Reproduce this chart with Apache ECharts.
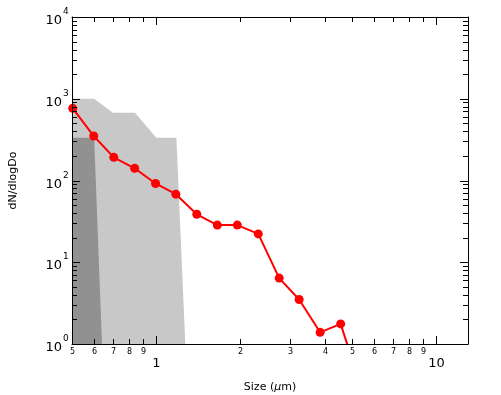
<!DOCTYPE html>
<html>
<head>
<meta charset="utf-8">
<script src="https://cdn.jsdelivr.net/npm/echarts@6/dist/echarts.min.js"></script>
<style>html,body{margin:0;padding:0;background:#fff}#c{width:501px;height:395px}</style>
</head>
<body>
<div id="c"></div>
<script>
// Measured size distribution (red)
const sizes = [0.503, 0.598, 0.705, 0.837, 0.994, 1.175, 1.396, 1.653, 1.948, 2.315, 2.75, 3.24, 3.85, 4.56, 5.4];
const conc  = [764, 350, 192, 141, 92, 68, 38.6, 28.5, 28.5, 22.2, 6.4, 3.5, 1.39, 1.76, 0.29];

// Grey shaded envelopes (size, dN/dlogDo vertices)
const lightGreyX = [0.5, 0.5, 0.6, 0.7, 0.84, 1.0, 1.18, 1.27];
const lightGreyY = [1, 1000, 1000, 675, 675, 334, 334, 1];
const darkGreyX  = [0.5, 0.5, 0.6, 0.64];
const darkGreyY  = [1, 334, 334, 1];

// Tick values and labels
const xTickValues = [0.5, 0.6, 0.7, 0.8, 0.9, 1, 2, 3, 4, 5, 6, 7, 8, 9, 10];
const xTickLabels = ['5', '6', '7', '8', '9', '1', '2', '3', '4', '5', '6', '7', '8', '9', '10'];
const yMajorValues = [1, 10, 100, 1000, 10000];
const yMajorExp = ['0', '1', '2', '3', '4'];
const yMinorMult = [2, 3, 4, 5, 6, 7, 8, 9];

const FONT = 'DejaVu Sans, Verdana, sans-serif';
const X_MIN = 0.5, X_MAX = 13, Y_MIN = 1, Y_MAX = 10000;

function isMajorX(v) { return v === 1 || v === 10; }

const yTicks = [];
yMajorValues.forEach(function (d, i) {
  yTicks.push([X_MIN, d, 1]);
  if (i < yMajorValues.length - 1) yMinorMult.forEach(function (m) { yTicks.push([X_MIN, d * m, 0]); });
});

function polySeries(xs, ys, color) {
  return {
    type: 'custom', silent: true, z: 1,
    data: [[xs[0], ys[0]]],
    renderItem: function (params, api) {
      const pts = xs.map(function (x, i) { return api.coord([x, ys[i]]); });
      return { type: 'polygon', shape: { points: pts }, style: { fill: color } };
    }
  };
}

const chart = echarts.init(document.getElementById('c'), null, { renderer: 'canvas' });
chart.setOption({
  animation: false,
  backgroundColor: '#ffffff',
  grid: { left: 72, right: 33, top: 17, bottom: 51, show: false, containLabel: false, outerBoundsMode: 'none' },
  xAxis: [{
    type: 'log', logBase: 10, min: X_MIN, max: X_MAX, z: 10,
    axisLine: { show: true, lineStyle: { color: '#000', width: 1 } },
    axisTick: { show: false }, axisLabel: { show: false }, splitLine: { show: false },
    name: 'Size ({i|μ}m)', nameLocation: 'middle', nameGap: 38,
    nameTextStyle: { fontFamily: FONT, fontSize: 11, color: '#000',
      rich: { i: { fontFamily: FONT, fontSize: 11, fontStyle: 'italic', color: '#000' } } }
  }, {
    type: 'log', logBase: 10, min: X_MIN, max: X_MAX, position: 'top', z: 10,
    axisLine: { show: true, lineStyle: { color: '#000', width: 1 } },
    axisTick: { show: false }, axisLabel: { show: false }, splitLine: { show: false }
  }],
  yAxis: [{
    type: 'log', logBase: 10, min: Y_MIN, max: Y_MAX, z: 10,
    axisLine: { show: true, lineStyle: { color: '#000', width: 1 } },
    axisTick: { show: false }, axisLabel: { show: false }, splitLine: { show: false },
    name: 'dN/dlogDo', nameLocation: 'middle', nameGap: 53, nameRotate: 90,
    nameTextStyle: { fontFamily: FONT, fontSize: 11, color: '#000' }
  }, {
    type: 'log', logBase: 10, min: Y_MIN, max: Y_MAX, position: 'right', z: 10,
    axisLine: { show: true, lineStyle: { color: '#000', width: 1 } },
    axisTick: { show: false }, axisLabel: { show: false }, splitLine: { show: false }
  }],
  series: [
    polySeries(lightGreyX, lightGreyY, '#c8c8c8'),
    polySeries(darkGreyX, darkGreyY, '#919191'),
    {
      type: 'custom', silent: true, z: 11,
      data: xTickValues.map(function (v, i) { return [v, Y_MIN, i]; }),
      renderItem: function (params, api) {
        const v = api.value(0), idx = api.value(2);
        const x = Math.round(api.coord([v, Y_MIN])[0]) + 0.5;
        const cs = params.coordSys;
        const bottom = cs.y + cs.height, top = cs.y;
        const major = isMajorX(v);
        const len = major ? 8 : 5;
        const children = [
          { type: 'line', shape: { x1: x, y1: bottom, x2: x, y2: bottom - len }, style: { stroke: '#000', lineWidth: 1 } },
          { type: 'line', shape: { x1: x, y1: top, x2: x, y2: top + len }, style: { stroke: '#000', lineWidth: 1 } }
        ];
        if (major) {
          children.push({ type: 'text', x: x, y: bottom + 20,
            style: { text: xTickLabels[idx], fontFamily: FONT, fontSize: 13, fill: '#000', align: 'center', verticalAlign: 'middle' } });
        } else {
          children.push({ type: 'text', x: x, y: bottom + 8,
            style: { text: xTickLabels[idx], fontFamily: FONT, fontSize: 8, fill: '#000', align: 'center', verticalAlign: 'middle' } });
        }
        return { type: 'group', children: children };
      }
    },
    {
      type: 'custom', silent: true, z: 11,
      data: yTicks,
      renderItem: function (params, api) {
        const v = api.value(1), major = api.value(2) === 1;
        const y = Math.round(api.coord([X_MIN, v])[1]) + 0.5;
        const cs = params.coordSys;
        const left = cs.x, right = cs.x + cs.width;
        const len = major ? 8 : 5;
        const children = [
          { type: 'line', shape: { x1: left, y1: y, x2: left + len, y2: y }, style: { stroke: '#000', lineWidth: 1 } },
          { type: 'line', shape: { x1: right, y1: y, x2: right - len, y2: y }, style: { stroke: '#000', lineWidth: 1 } }
        ];
        if (major) {
          const e = yMajorExp[yMajorValues.indexOf(v)];
          children.push({ type: 'text', x: left - 10, y: y + 3,
            style: { text: '10', fontFamily: FONT, fontSize: 13, fill: '#000', align: 'right', verticalAlign: 'middle' } });
          children.push({ type: 'text', x: left - 9, y: y - 6,
            style: { text: e, fontFamily: FONT, fontSize: 9, fill: '#000', align: 'left', verticalAlign: 'middle' } });
        }
        return { type: 'group', children: children };
      }
    },
    {
      type: 'line', z: 5,
      data: sizes.map(function (s, i) { return [s, conc[i]]; }),
      clip: true,
      symbol: 'circle', symbolSize: 9,
      lineStyle: { color: '#ff0000', width: 2 },
      itemStyle: { color: '#ff0000' }
    }
  ]
});
</script>
</body>
</html>
